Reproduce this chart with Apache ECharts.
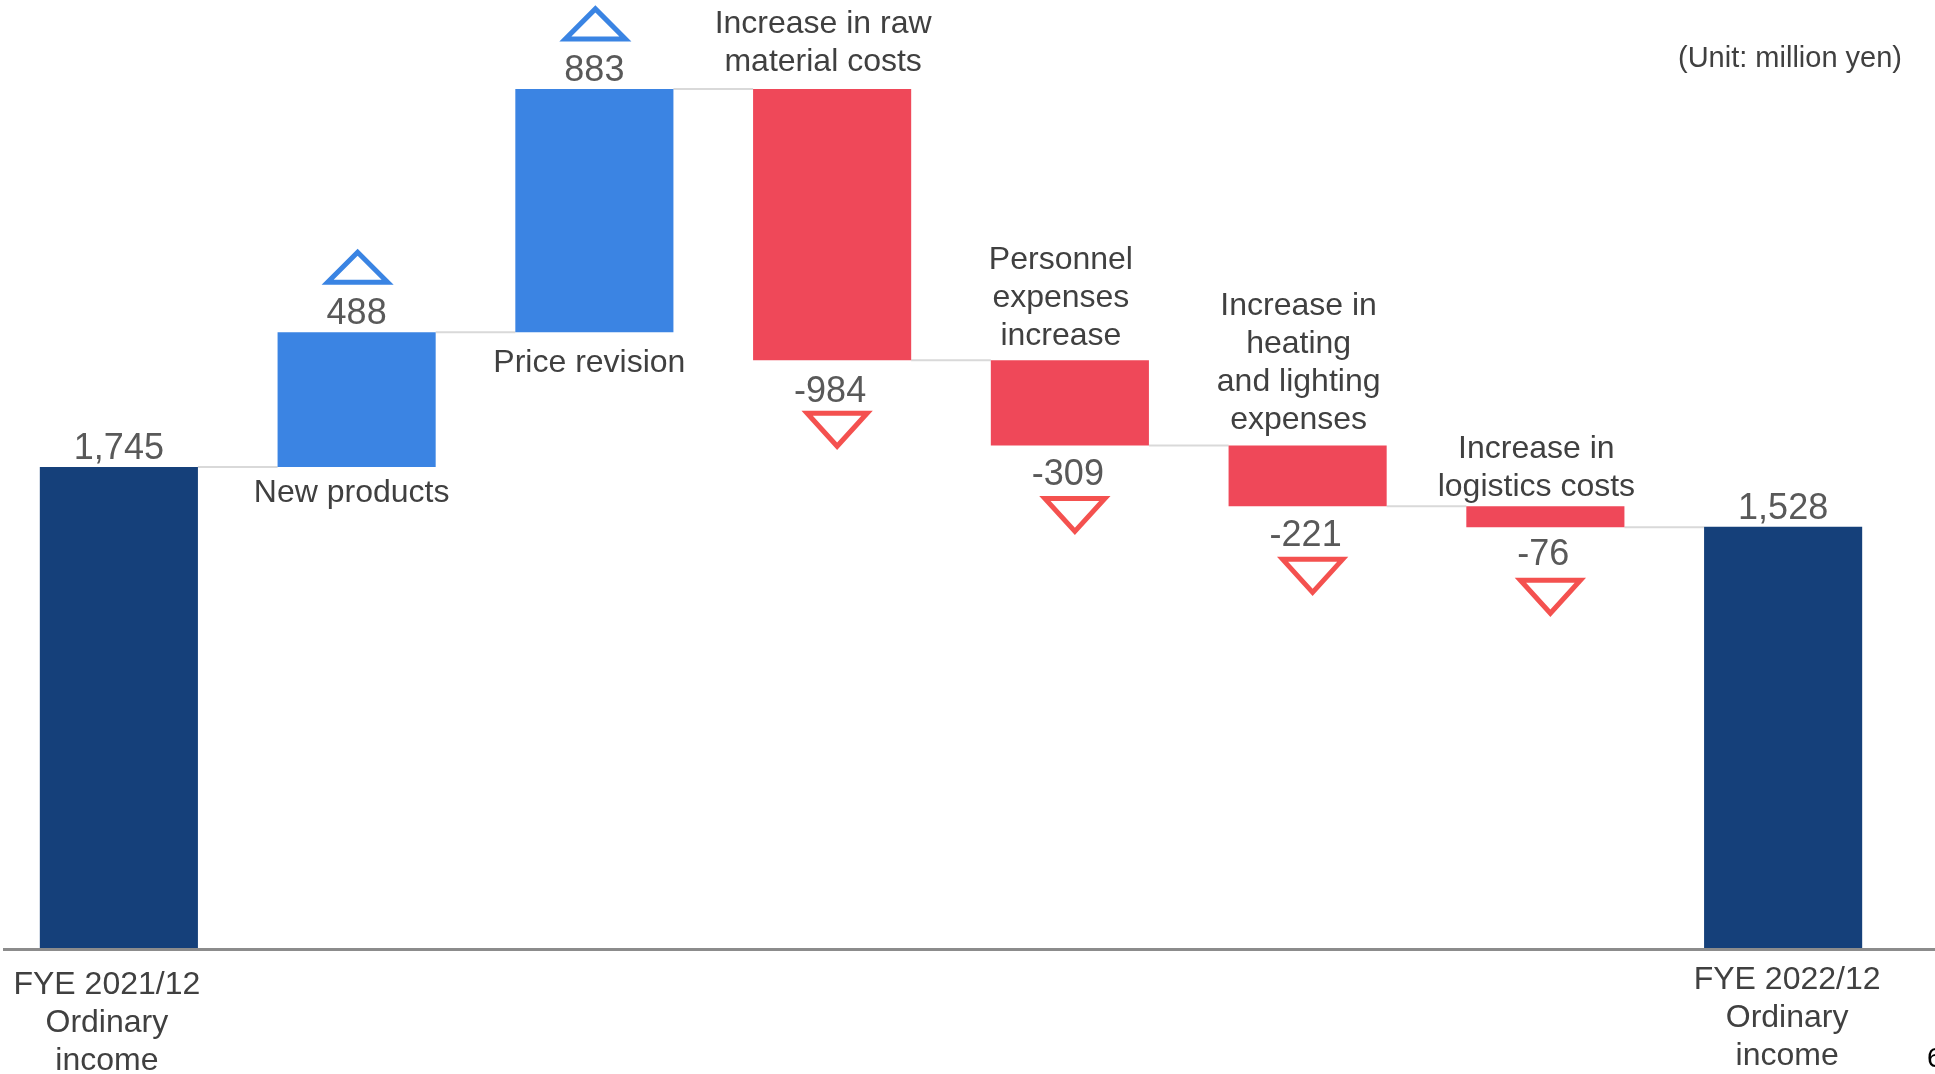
<!DOCTYPE html>
<html>
<head>
<meta charset="utf-8">
<script src="https://cdn.jsdelivr.net/npm/echarts@6/dist/echarts.min.js"></script>
<style>
html,body{margin:0;padding:0;background:#fff;}
#chart{width:1935px;height:1074px;}
</style>
</head>
<body>
<div id="chart"></div>
<script>
// ---- data ----
const categories = ['FYE 2021/12\nOrdinary\nincome', 'New products', 'Price revision', 'Increase in raw\nmaterial costs', 'Personnel\nexpenses\nincrease', 'Increase in\nheating\nand lighting\nexpenses', 'Increase in\nlogistics costs', 'FYE 2022/12\nOrdinary\nincome'];
const changes = [1745, 488, 883, -984, -309, -221, -76, 1528];
const kinds = ['total', 'up', 'up', 'down', 'down', 'down', 'down', 'total'];
const valueLabels = ['1,745', '488', '883', '-984', '-309', '-221', '-76', '1,528'];
const unitText = '(Unit: million yen)';
const pageNo = '6';

// ---- styling (per-category label fine-tuning, px) ----
const noteDist = [0, 7, 11.5, 7.5, 4.8, 6.2, 0.5, 0];
const valDist = [0, 0.5, 0, 13.5, 11.7, 12, 9.7, -0.5];

// ---- build waterfall ----
const FONT = '"Liberation Sans", Arial, sans-serif';
const C_TOTAL = '#15407A', C_UP = '#3B84E3', C_DOWN = '#EF4859';
const T_UP = '#3A84E3', T_DOWN = '#F4514F';
const VAL_SIZE = 36, NOTE_SIZE = 32;
const valStyle = { fontSize: VAL_SIZE, lineHeight: 36, color: '#595959', fontFamily: FONT };
const noteStyle = { fontSize: NOTE_SIZE, lineHeight: 38, color: '#404040', fontFamily: FONT };
const baseData = [], valData = [], levels = [], triData = [];
let run = 0;
categories.forEach((c, i) => {
  const k = kinds[i], v = changes[i];
  if (k === 'total') {
    run = v;
    baseData.push({ value: 0, label: { show: false } });
    valData.push({ value: v, itemStyle: { color: C_TOTAL },
      label: Object.assign({ show: true, position: 'top', distance: valDist[i], formatter: valueLabels[i] }, valStyle) });
  } else if (k === 'up') {
    baseData.push({ value: run,
      label: Object.assign({ show: true, position: 'insideTop', distance: noteDist[i], formatter: categories[i], offset: [-5, 0] }, noteStyle) });
    valData.push({ value: v, itemStyle: { color: C_UP },
      label: Object.assign({ show: true, position: 'top', distance: valDist[i], formatter: valueLabels[i] }, valStyle) });
    run += v;
    triData.push([i, run, 1]);
  } else {
    run += v;
    baseData.push({ value: run,
      label: Object.assign({ show: true, position: 'insideTop', distance: valDist[i], formatter: valueLabels[i], offset: [-2, 0] }, valStyle) });
    valData.push({ value: -v, itemStyle: { color: C_DOWN },
      label: Object.assign({ show: true, position: 'top', distance: noteDist[i], formatter: categories[i], offset: [-9, 0] }, noteStyle) });
    triData.push([i, run, -1]);
  }
  levels.push(run);
});
const connData = [];
for (let i = 0; i < levels.length - 1; i++) connData.push([i, levels[i]]);

const axisCats = categories.map((c, i) => {
  if (i === 0) return { value: c, textStyle: { padding: [5, 24, 0, 0] } };
  if (i === categories.length - 1) return { value: c, textStyle: { padding: [0, 0, 0, 8] } };
  return c;
});

const BAR_RATIO = 0.665;
const chart = echarts.init(document.getElementById('chart'), null, { renderer: 'canvas' });
const option = {
  animation: false,
  backgroundColor: '#ffffff',
  title: [
    { text: unitText, right: 33, top: 44, padding: 0, textStyle: { fontSize: 29, fontWeight: 'normal', color: '#404040', fontFamily: FONT } },
    { text: pageNo, left: 1922, top: 1040, textStyle: { fontSize: 28, fontWeight: 'normal', color: '#000', fontFamily: FONT } }
  ],
  grid: { left: 0, right: 33, top: 10.6, bottom: 126, containLabel: false, outerBoundsMode: 'none' },
  xAxis: {
    type: 'category', data: axisCats,
    axisLine: { show: false }, axisTick: { show: false },
    axisLabel: {
      interval: 0, margin: 13.5, fontSize: 32, lineHeight: 38, color: '#404040', fontFamily: FONT,
      formatter: (v, i) => (kinds[i] === 'total' ? v : '')
    }
  },
  yAxis: { type: 'value', min: 0, max: 3400, show: false, splitLine: { show: false } },
  series: [
    { type: 'bar', stack: 'w', barWidth: (BAR_RATIO * 100) + '%', itemStyle: { color: 'rgba(0,0,0,0)' }, data: baseData, z: 2 },
    { type: 'bar', stack: 'w', barWidth: (BAR_RATIO * 100) + '%', data: valData, z: 3 },
    {
      type: 'custom', data: connData, z: 1, silent: true,
      renderItem: (params, api) => {
        const i = api.value(0), lv = api.value(1);
        const p1 = api.coord([i, lv]), p2 = api.coord([i + 1, lv]);
        const bw = api.size([1, 0])[0] * BAR_RATIO;
        return { type: 'line', shape: { x1: p1[0] + bw / 2, y1: p1[1], x2: p2[0] - bw / 2, y2: p2[1] },
          style: { stroke: '#d9d9d9', lineWidth: 2 } };
      }
    },
    {
      type: 'custom', data: triData, z: 4, silent: true,
      renderItem: (params, api) => {
        const i = api.value(0), lv = api.value(1), dir = api.value(2);
        const p = api.coord([i, lv]);
        let pts;
        if (dir > 0) {
          const cx = p[0] + 1, cy = p[1] - 65;
          pts = [[cx - 30, cy + 15], [cx + 30, cy + 15], [cx, cy - 15]];
        } else {
          const cx = p[0] + 5, cy = p[1] + 69.5;
          pts = [[cx - 30, cy - 16.5], [cx + 30, cy - 16.5], [cx, cy + 16.5]];
        }
        return { type: 'polygon', shape: { points: pts },
          style: { fill: 'none', stroke: dir > 0 ? T_UP : T_DOWN, lineWidth: 5, lineJoin: 'miter' } };
      }
    }
  ]
};
chart.setOption(option);
const y0 = chart.convertToPixel({ yAxisIndex: 0 }, 0);
chart.setOption({
  graphic: [{ type: 'line', shape: { x1: 3, y1: y0 + 1.5, x2: 1935, y2: y0 + 1.5 }, style: { stroke: '#8c8c8c', lineWidth: 3 }, z: 10 }]
});
</script>
</body>
</html>
